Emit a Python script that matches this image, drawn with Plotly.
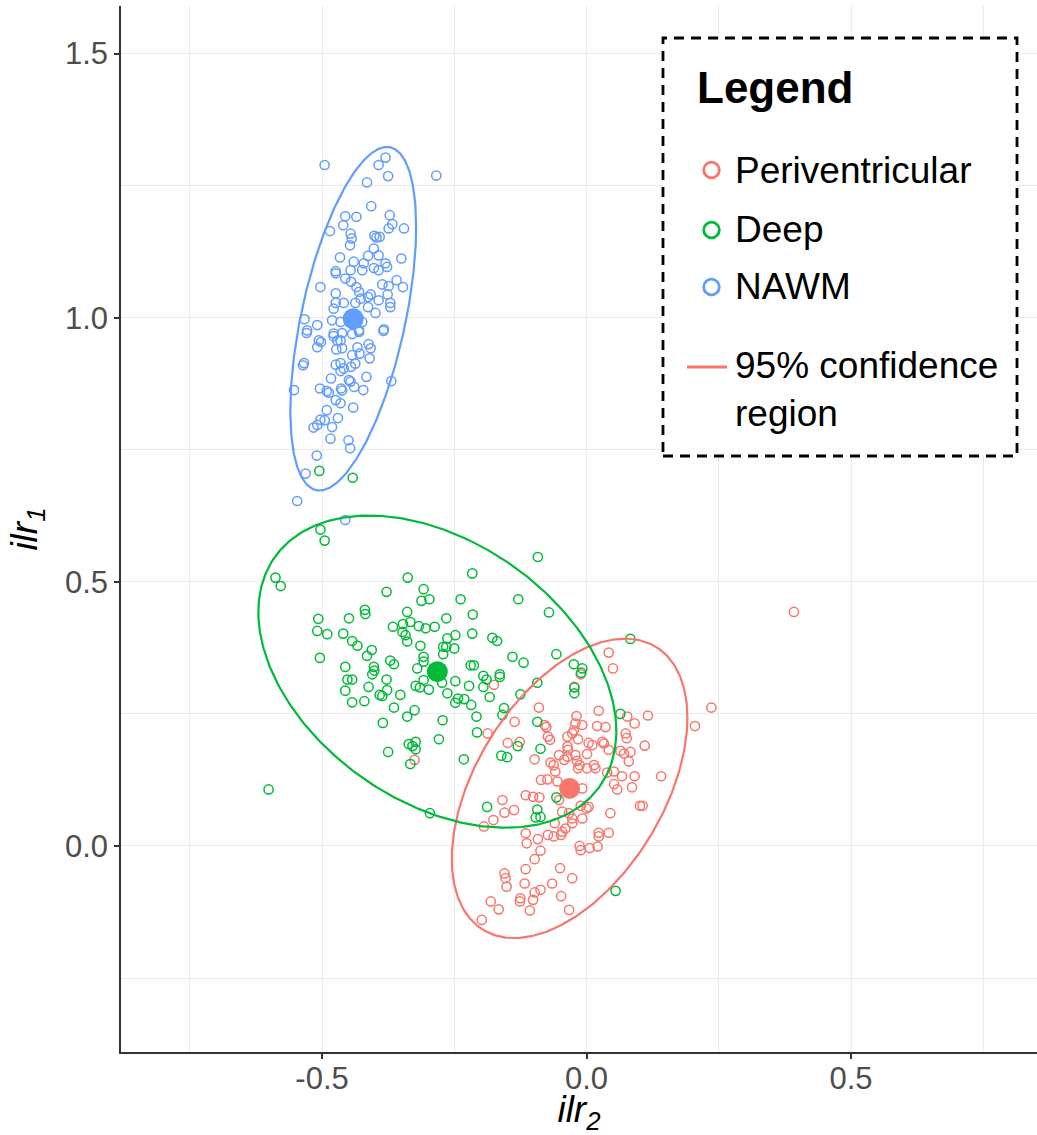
import numpy as np
import plotly.graph_objects as go

# ---------------- data ----------------
GROUPS = ["Periventricular", "Deep", "NAWM"]
COLORS = ["#F8766D", "#00BA38", "#619CFF"]

nawm_x = [-0.495, -0.380, -0.393, -0.375, -0.284, -0.415, -0.407, -0.456, -0.435, -0.372,
          -0.460, -0.367, -0.374, -0.345, -0.485, -0.446, -0.444, -0.401, -0.391, -0.397,
          -0.447, -0.402, -0.393, -0.413, -0.466, -0.350, -0.440, -0.421, -0.380, -0.377,
          -0.402, -0.393, -0.446, -0.424, -0.474, -0.474, -0.456, -0.445, -0.359, -0.386,
          -0.374, -0.347, -0.503, -0.435, -0.430, -0.474, -0.408, -0.376, -0.413, -0.427,
          -0.393, -0.371, -0.474, -0.459, -0.437, -0.478, -0.413, -0.371, -0.399, -0.481,
          -0.533, -0.465, -0.509, -0.424, -0.383, -0.528, -0.478, -0.430, -0.529, -0.506,
          -0.502, -0.509, -0.478, -0.462, -0.443, -0.430, -0.384, -0.471, -0.465, -0.473,
          -0.462, -0.433, -0.412, -0.408, -0.443, -0.429, -0.410, -0.437, -0.534, -0.536,
          -0.474, -0.465, -0.459, -0.465, -0.445, -0.416, -0.369, -0.483, -0.449, -0.446,
          -0.553, -0.504, -0.491, -0.487, -0.464, -0.462, -0.439, -0.422, -0.474, -0.465,
          -0.441, -0.491, -0.470, -0.503, -0.495, -0.509, -0.516, -0.481, -0.484, -0.450,
          -0.447, -0.510, -0.531, -0.547, -0.456]
nawm_y = [1.289, 1.303, 1.289, 1.268, 1.269, 1.256, 1.211, 1.192, 1.191, 1.194,
          1.175, 1.177, 1.169, 1.169, 1.164, 1.159, 1.150, 1.155, 1.153, 1.152,
          1.137, 1.131, 1.118, 1.117, 1.114, 1.112, 1.106, 1.103, 1.103, 1.096,
          1.094, 1.090, 1.090, 1.090, 1.088, 1.084, 1.074, 1.068, 1.071, 1.063,
          1.060, 1.058, 1.058, 1.058, 1.049, 1.046, 1.044, 1.044, 1.039, 1.036,
          1.033, 1.028, 1.028, 1.028, 1.028, 1.017, 1.020, 1.020, 1.009, 0.995,
          0.997, 0.992, 0.986, 0.992, 0.978, 0.976, 0.970, 0.976, 0.971, 0.957,
          0.954, 0.944, 0.965, 0.971, 0.969, 0.973, 0.975, 0.957, 0.957, 0.940,
          0.942, 0.944, 0.950, 0.942, 0.929, 0.932, 0.923, 0.913, 0.914, 0.910,
          0.911, 0.914, 0.904, 0.899, 0.907, 0.888, 0.880, 0.885, 0.882, 0.879,
          0.863, 0.866, 0.861, 0.858, 0.866, 0.862, 0.869, 0.863, 0.844, 0.838,
          0.830, 0.825, 0.810, 0.807, 0.806, 0.797, 0.792, 0.793, 0.771, 0.768,
          0.753, 0.739, 0.705, 0.653, 0.617]

deep_x = [-0.505, -0.442, -0.503, -0.495, -0.588, -0.578, -0.338, -0.378, -0.308, -0.312,
          -0.297, -0.419, -0.418, -0.339, -0.507, -0.449, -0.265, -0.366, -0.347, -0.333,
          -0.317, -0.304, -0.287, -0.509, -0.490, -0.460, -0.348, -0.342, -0.339, -0.443,
          -0.433, -0.314, -0.263, -0.271, -0.265, -0.406, -0.415, -0.504, -0.271, -0.308,
          -0.308, -0.371, -0.364, -0.456, -0.402, -0.320, -0.401, -0.405, -0.452, -0.443,
          -0.378, -0.456, -0.412, -0.377, -0.323, -0.315, -0.298, -0.308, -0.273, -0.263,
          -0.391, -0.386, -0.352, -0.443, -0.420, -0.364, -0.339, -0.325, -0.272, -0.385,
          -0.279, -0.336, -0.323, -0.329, -0.323, -0.375, -0.333, -0.601, -0.296, -0.092,
          -0.216, -0.238, -0.129, -0.071, -0.215, -0.248, -0.216, -0.178, -0.169, 0.083,
          -0.250, -0.140, -0.119, -0.057, -0.219, -0.213, -0.024, -0.008, -0.010, -0.164,
          -0.164, -0.195, -0.189, -0.248, -0.195, -0.222, -0.093, -0.023, -0.023, -0.183,
          -0.125, -0.243, -0.231, -0.248, -0.218, -0.156, -0.208, -0.207, -0.159, -0.093,
          -0.130, -0.087, -0.232, -0.161, -0.150, 0.064, -0.057, -0.188, -0.093, -0.096,
          -0.087, 0.055]
deep_y = [0.710, 0.697, 0.599, 0.578, 0.508, 0.492, 0.508, 0.481, 0.486, 0.464,
          0.467, 0.447, 0.439, 0.443, 0.430, 0.431, 0.431, 0.415, 0.420, 0.424,
          0.416, 0.412, 0.415, 0.407, 0.401, 0.402, 0.405, 0.399, 0.387, 0.388,
          0.379, 0.379, 0.393, 0.377, 0.377, 0.371, 0.360, 0.356, 0.363, 0.358,
          0.349, 0.351, 0.344, 0.339, 0.339, 0.336, 0.332, 0.325, 0.315, 0.315,
          0.315, 0.294, 0.301, 0.295, 0.303, 0.300, 0.296, 0.314, 0.309, 0.289,
          0.286, 0.284, 0.286, 0.272, 0.274, 0.262, 0.245, 0.257, 0.238, 0.233,
          0.202, 0.193, 0.197, 0.189, 0.183, 0.178, 0.155, 0.107, 0.062, 0.547,
          0.516, 0.467, 0.467, 0.442, 0.438, 0.399, 0.402, 0.394, 0.388, 0.392,
          0.374, 0.358, 0.347, 0.363, 0.342, 0.342, 0.344, 0.336, 0.328, 0.325,
          0.320, 0.322, 0.315, 0.312, 0.301, 0.303, 0.309, 0.300, 0.289, 0.282,
          0.287, 0.279, 0.278, 0.271, 0.267, 0.261, 0.245, 0.215, 0.248, 0.235,
          0.189, 0.184, 0.164, 0.171, 0.168, 0.250, 0.092, 0.074, 0.069, 0.054,
          0.055, -0.085]

peri_x = [-0.090, 0.023, -0.019, 0.077, 0.091, -0.136, -0.079, -0.076, -0.021, -0.008,
          0.020, 0.036, -0.024, -0.027, -0.187, -0.073, -0.069, -0.036, -0.016, 0.074,
          0.076, -0.149, -0.126, 0.004, 0.011, 0.030, 0.033, -0.036, -0.035, 0.042,
          0.064, 0.083, 0.071, -0.052, 0.001, -0.021, -0.036, -0.098, -0.068, -0.042,
          -0.018, -0.013, 0.080, -0.062, 0.014, 0.017, -0.059, -0.016, 0.001, 0.052,
          0.039, 0.067, 0.091, -0.086, -0.074, -0.055, 0.052, 0.058, 0.086, -0.008,
          -0.115, -0.101, -0.089, -0.052, -0.159, 0.101, -0.137, -0.155, -0.176, -0.194,
          -0.011, 0.000, 0.004, -0.046, -0.033, 0.045, -0.027, -0.008, -0.027, -0.060,
          -0.040, -0.046, -0.115, -0.073, -0.062, -0.048, 0.023, 0.042, 0.023, -0.113,
          -0.092, -0.013, -0.011, 0.006, 0.021, -0.087, -0.098, -0.115, -0.050, -0.027,
          -0.155, -0.153, -0.151, -0.117, -0.065, -0.087, -0.098, -0.048, -0.125, -0.126,
          -0.101, -0.181, -0.166, -0.107, -0.033, -0.198, 0.042, 0.050, -0.011, -0.023,
          -0.175, -0.325, 0.392, 0.236, 0.205, 0.116, 0.110, 0.141, 0.106]
peri_y = [0.262, 0.256, 0.246, 0.245, 0.232, 0.235, 0.229, 0.225, 0.232, 0.229,
          0.227, 0.225, 0.219, 0.213, 0.213, 0.207, 0.201, 0.207, 0.202, 0.213,
          0.204, 0.195, 0.197, 0.195, 0.191, 0.197, 0.194, 0.188, 0.182, 0.182,
          0.180, 0.178, 0.175, 0.172, 0.174, 0.172, 0.169, 0.164, 0.158, 0.163,
          0.161, 0.153, 0.160, 0.153, 0.153, 0.147, 0.141, 0.147, 0.147, 0.141,
          0.139, 0.132, 0.132, 0.125, 0.126, 0.122, 0.117, 0.107, 0.111, 0.109,
          0.096, 0.093, 0.092, 0.087, 0.087, 0.076, 0.068, 0.063, 0.049, 0.037,
          0.076, 0.071, 0.074, 0.065, 0.062, 0.062, 0.052, 0.052, 0.043, 0.043,
          0.033, 0.027, 0.024, 0.021, 0.018, 0.021, 0.025, 0.025, 0.018, 0.005,
          0.013, 0.000, -0.008, -0.004, -0.001, -0.009, -0.025, -0.044, -0.042, -0.061,
          -0.052, -0.061, -0.077, -0.071, -0.071, -0.083, -0.088, -0.095, -0.099, -0.105,
          -0.102, -0.105, -0.120, -0.122, -0.121, -0.140, 0.366, 0.336, 0.325, 0.301,
          0.305, 0.163, 0.443, 0.262, 0.227, 0.247, 0.190, 0.132, 0.076]

# group centroids (filled dots)
centroid_x = [-0.032, -0.282, -0.441]
centroid_y = [0.109, 0.330, 0.998]

# 95% confidence ellipse shape matrices [sxx, syy, sxy] per group
ellipse_shape = [[0.04959, 0.08030, 0.02973],
                 [0.11450, 0.08730, -0.03815],
                 [0.01414, 0.10570, 0.02071]]

x_ticks = [-0.5, 0.0, 0.5]
x_ticktext = ["-0.5", "0.0", "0.5"]
y_ticks = [0.0, 0.5, 1.0, 1.5]
y_ticktext = ["0.0", "0.5", "1.0", "1.5"]

points_x = [peri_x, deep_x, nawm_x]
points_y = [peri_y, deep_y, nawm_y]

# ---------------- figure ----------------
fig = go.Figure()

for g, c, xs, ys in zip(GROUPS, COLORS, points_x, points_y):
    fig.add_trace(go.Scatter(x=xs, y=ys, mode="markers", name=g,
                             marker=dict(symbol="circle-open", size=9.2, color=c,
                                         line=dict(width=1.5)),
                             showlegend=False))

t = np.linspace(0, 2 * np.pi, 361)
for g, c, cx, cy, s in zip(GROUPS, COLORS, centroid_x, centroid_y, ellipse_shape):
    m = np.array([[s[0], s[2]], [s[2], s[1]]])
    L = np.linalg.cholesky(m)
    pts = L @ np.vstack([np.cos(t), np.sin(t)])
    fig.add_trace(go.Scatter(x=cx + pts[0], y=cy + pts[1], mode="lines",
                             name=g + " 95% confidence region",
                             line=dict(color=c, width=2.2), showlegend=False,
                             hoverinfo="skip"))

for g, c, cx, cy in zip(GROUPS, COLORS, centroid_x, centroid_y):
    fig.add_trace(go.Scatter(x=[cx], y=[cy], mode="markers", name=g + " centroid",
                             marker=dict(symbol="circle", size=21, color=c),
                             showlegend=False))

# ---------------- layout ----------------
W, H = 1037, 1135
ML, MR, MT, MB = 121, 0, 6, 83
PW, PH = W - ML - MR, H - MT - MB


def px(xp):
    return (xp - ML) / PW


def py(yp):
    return (H - MB - yp) / PH


grid = "#EBEBEB"
axis_common = dict(showgrid=True, gridcolor=grid, gridwidth=1.2, zeroline=False,
                   showline=True, linecolor="#333333", linewidth=1.5,
                   ticks="outside", ticklen=5, tickwidth=1.5, tickcolor="#333333",
                   tickfont=dict(size=31, color="#4D4D4D"))

fig.update_layout(
    width=W, height=H,
    margin=dict(l=ML, r=MR, t=MT, b=MB),
    plot_bgcolor="white", paper_bgcolor="white",
    font=dict(family="Liberation Sans, Arial, sans-serif", color="#4D4D4D"),
    showlegend=False,
    xaxis=dict(range=[-0.88, 0.8516], tickvals=x_ticks, ticktext=x_ticktext,
               ticklabelstandoff=-7,
               minor=dict(tickvals=[-0.75, -0.25, 0.25, 0.75], showgrid=True,
                          gridcolor=grid, gridwidth=1, ticks=""),
               title=dict(text="<i>ilr<sub>2</sub></i>", standoff=20,
                          font=dict(size=37, color="black")),
               automargin=False, **axis_common),
    yaxis=dict(range=[-0.39, 1.59], tickvals=y_ticks, ticktext=y_ticktext,
               minor=dict(tickvals=[-0.25, 0.25, 0.75, 1.25], showgrid=True,
                          gridcolor=grid, gridwidth=1, ticks=""),
               title=dict(text="<i>ilr<sub>1</sub></i>", standoff=16,
                          font=dict(size=37, color="black")),
               automargin=False, **axis_common),
)

# ---------------- manual legend ----------------
shapes = [dict(type="rect", xref="paper", yref="paper",
               x0=px(663), x1=px(1017), y0=py(456), y1=py(38),
               line=dict(color="black", width=2.8, dash="10px,7px"),
               fillcolor="white", layer="above")]
item_y = [170, 230, 287]
for c, yy in zip(COLORS, item_y):
    shapes.append(dict(type="circle", xref="paper", yref="paper",
                       xsizemode="pixel", ysizemode="pixel",
                       xanchor=px(711.5), yanchor=py(yy),
                       x0=-7.8, x1=7.8, y0=-7.8, y1=7.8,
                       line=dict(color=c, width=2.8), layer="above"))
shapes.append(dict(type="line", xref="paper", yref="paper",
                   x0=px(687), x1=px(727), y0=py(367), y1=py(367),
                   line=dict(color=COLORS[0], width=3), layer="above"))

annotations = [dict(text="<b>Legend</b>", xref="paper", yref="paper",
                    x=px(695), y=py(88), xanchor="left", yanchor="middle",
                    showarrow=False, font=dict(size=44, color="black"))]
for g, yy in zip(GROUPS, item_y):
    annotations.append(dict(text=g, xref="paper", yref="paper",
                            x=px(733), y=py(yy), xanchor="left", yanchor="middle",
                            showarrow=False, font=dict(size=37, color="black")))
annotations.append(dict(text="95% confidence<br>region", xref="paper", yref="paper",
                        x=px(733), y=py(343), xanchor="left", yanchor="top",
                        align="left", showarrow=False,
                        font=dict(size=37, color="black")))

fig.update_layout(shapes=shapes, annotations=annotations)

fig.write_html("out.html")
